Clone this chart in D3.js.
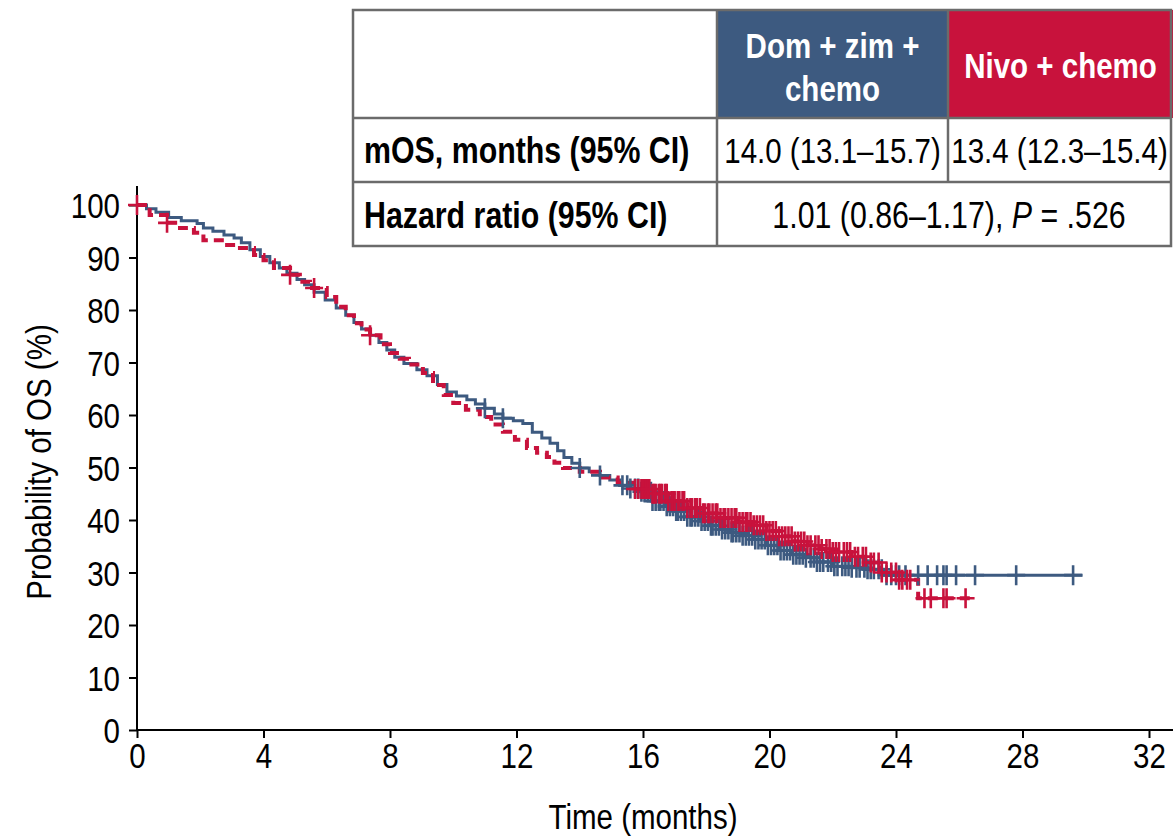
<!DOCTYPE html>
<html>
<head>
<meta charset="utf-8">
<script src="https://cdn.jsdelivr.net/npm/d3@7/dist/d3.min.js"></script>
<style>
    body { margin: 0; background: #fff; }
    svg { display: block; font-family: "Liberation Sans", Arial, sans-serif; }
</style>
</head>
<body>
<div id="chart"></div>
<script>
// Kaplan-Meier steps: [month, OS %]
const domZimSteps = [
    [0, 100], [0.3, 99.3], [0.6, 98.6], [1.0, 97.6], [1.4, 97.0], [1.9, 96.5], [2.1, 95.6], [2.4, 95.0],
    [2.75, 94.3], [3.07, 93.7], [3.3, 92.8], [3.57, 91.5], [3.9, 90.2], [4.2, 89.0], [4.5, 88.0], [4.74, 87.0],
    [5.06, 85.8], [5.3, 84.8], [5.6, 83.4], [5.95, 81.9], [6.3, 80.4], [6.6, 79.0], [6.86, 77.6], [7.1, 76.4],
    [7.37, 75.2], [7.65, 73.8], [7.9, 72.4], [8.15, 71.0], [8.44, 69.8], [8.85, 68.6], [9.17, 67.5], [9.5, 65.8],
    [9.8, 64.4], [10.1, 63.6], [10.43, 62.9], [10.7, 62.1], [11.0, 61.3], [11.3, 60.2], [11.57, 59.4], [11.9, 58.9],
    [12.2, 58.4], [12.5, 56.7], [12.8, 55.6], [13.06, 54.6], [13.3, 53.2], [13.5, 51.9], [13.75, 50.8], [14.0, 49.9],
    [14.3, 49.2], [14.64, 48.5], [14.95, 47.6], [15.27, 46.6], [15.6, 46.0], [15.9, 45.4], [16.3, 43.6], [16.7, 42.6],
    [17.0, 41.7], [17.4, 40.6], [17.8, 39.8], [18.1, 38.9], [18.43, 38.2], [18.8, 37.6], [19.1, 37.0], [19.5, 36.3],
    [19.9, 35.2], [20.3, 34.2], [20.7, 33.4], [21.06, 32.8], [21.5, 32.0], [22.0, 31.2], [22.6, 30.9], [23.1, 30.6],
    [23.6, 29.5], [29.9, 29.5]
];

const nivoSteps = [
    [0, 100], [0.4, 98.1], [0.95, 96.6], [1.36, 95.6], [1.8, 94.7], [2.1, 93.3], [2.75, 92.4], [3.16, 91.8],
    [3.7, 90.5], [4.0, 89.5], [4.33, 88.0], [4.84, 86.7], [5.15, 85.4], [5.47, 84.2], [6.0, 82.5], [6.3, 80.6],
    [6.6, 79.0], [6.86, 77.5], [7.1, 76.3], [7.37, 75.2], [7.7, 73.5], [8.0, 71.8], [8.31, 70.7], [8.6, 69.6],
    [9.04, 68.0], [9.36, 65.7], [9.7, 63.8], [10.0, 62.3], [10.4, 61.0], [10.84, 59.6], [11.2, 58.2], [11.57, 56.8],
    [11.95, 55.3], [12.33, 53.7], [12.65, 52.8], [12.96, 52.0], [13.2, 50.9], [13.47, 49.9], [14.0, 49.2], [14.64, 48.1],
    [15.2, 47.1], [15.7, 45.9], [16.3, 45.0], [16.8, 43.6], [17.4, 42.3], [17.9, 41.3], [18.43, 40.4], [19.0, 39.6],
    [19.5, 39.0], [19.9, 37.9], [20.3, 36.9], [20.8, 35.9], [21.2, 35.2], [21.6, 34.5], [22.0, 33.9], [22.6, 33.0],
    [23.1, 31.9], [23.5, 30.0], [24.1, 28.6], [24.7, 25.1], [26.4, 25.1]
];

// censoring times (months)
const domZimCensor = [
    11.0, 11.57, 14.0, 14.64, 15.35, 15.5, 15.6, 15.75, 15.85, 15.95, 16.05, 16.15, 16.25, 16.3, 16.4, 16.5,
    16.55, 16.65, 16.75, 16.85, 16.95, 17.05, 17.1, 17.2, 17.3, 17.4, 17.5, 17.55, 17.65, 17.75, 17.85, 17.95,
    18.05, 18.15, 18.2, 18.3, 18.4, 18.5, 18.6, 18.7, 18.8, 18.85, 18.95, 19.05, 19.15, 19.25, 19.35, 19.45,
    19.55, 19.65, 19.75, 19.85, 19.95, 20.05, 20.15, 20.25, 20.35, 20.45, 20.55, 20.65, 20.75, 20.85, 20.95,
    21.05, 21.15, 21.3, 21.4, 21.5, 21.6, 21.7, 21.85, 21.95, 22.05, 22.15, 22.3, 22.4, 22.5, 22.6, 22.75,
    22.85, 23.0, 23.1, 23.2, 23.3, 23.45, 23.55, 23.7, 23.85, 24.0, 24.1, 24.3, 24.7, 25.0, 25.3, 25.5, 25.6,
    25.9, 26.5, 27.8, 29.6
];

const nivoCensor = [
    0, 0.95, 4.84, 5.6, 7.37, 15.75, 15.85, 15.95, 16.0, 16.05, 16.1, 16.15, 16.2, 16.3, 16.35, 16.4, 16.5,
    16.55, 16.6, 16.7, 16.75, 16.8, 16.9, 16.95, 17.0, 17.1, 17.15, 17.25, 17.3, 17.4, 17.5, 17.55, 17.65,
    17.7, 17.8, 17.9, 17.95, 18.05, 18.1, 18.2, 18.3, 18.35, 18.45, 18.55, 18.6, 18.7, 18.8, 18.9, 18.95,
    19.05, 19.15, 19.25, 19.3, 19.4, 19.5, 19.6, 19.7, 19.8, 19.9, 20.0, 20.1, 20.2, 20.3, 20.4, 20.5, 20.6,
    20.7, 20.8, 20.9, 21.0, 21.1, 21.2, 21.3, 21.45, 21.55, 21.65, 21.8, 21.9, 22.0, 22.1, 22.2, 22.35, 22.45,
    22.55, 22.7, 22.8, 22.95, 23.05, 23.2, 23.3, 23.45, 23.55, 23.7, 23.85, 24.0, 24.1, 24.2, 24.35, 24.45,
    24.9, 25.1, 25.5, 25.6, 26.2
];

const xTicks = [0, 4, 8, 12, 16, 20, 24, 28, 32];
const yTicks = [0, 10, 20, 30, 40, 50, 60, 70, 80, 90, 100];

const headDomZim = ["Dom + zim +", "chemo"];
const headNivo = ["Nivo + chemo"];
const mosRow = ["mOS, months (95% CI)", "14.0 (13.1–15.7)", "13.4 (12.3–15.4)"];
const hrLabel = "Hazard ratio (95% CI)";
const hrValue = ["1.01 (0.86–1.17), ", "P", " = .526"];

const blue = "#3d5a80";
const red = "#c8123c";

const draw = (parent) => {
    var W = 1173, H = 837;
    var margin = { top: 205, left: 137 };
    var squeeze = 0.82; // the figure is set in a narrow face

    var svg = d3.select(parent).append("svg")
        .attr("width", W)
        .attr("height", H);

    // text placed at (px, py), squeezed horizontally around its anchor
    const narrowText = (sel, px, py, opts) => {
        return sel.append("g")
            .attr("transform", "translate(" + px + "," + py + ")" + (opts.rotate ? " rotate(" + opts.rotate + ")" : "") + " scale(" + squeeze + ",1)")
            .append("text")
            .attr("text-anchor", opts.anchor || "middle")
            .attr("dy", opts.dy !== undefined ? opts.dy : "0.36em")
            .attr("font-size", opts.size || 36)
            .attr("font-weight", opts.bold ? "bold" : "normal")
            .attr("fill", opts.fill || "#000");
    };

    const x = d3.scaleLinear().domain([0, 32]).range([margin.left, 1149]);
    const y = d3.scaleLinear().domain([0, 100]).range([730, margin.top]);

    // axes
    const xAxis = svg.append("g")
        .attr("transform", "translate(0," + y(0) + ")")
        .call(d3.axisBottom(x).tickValues(xTicks).tickSize(8).tickSizeOuter(0).tickPadding(4));
    xAxis.select(".domain").attr("d", "M" + x(0) + ",0H" + W);

    const yAxis = svg.append("g")
        .attr("transform", "translate(" + x(0) + ",0)")
        .call(d3.axisLeft(y).tickValues(yTicks).tickSize(8).tickSizeOuter(0).tickPadding(9));
    yAxis.select(".domain").attr("d", "M0," + y(0) + "V" + y(103.6));

    svg.selectAll(".domain, .tick line").attr("stroke", "#000").attr("stroke-width", 2);
    svg.selectAll(".tick text").attr("font-size", 36).attr("fill", "#000")
        .attr("font-family", "inherit")
        .attr("transform", "scale(" + squeeze + ",1)");
    yAxis.selectAll(".tick text").attr("dy", "0.36em").attr("x", -17 / squeeze);

    narrowText(svg, (x(0) + x(32)) / 2, 829, { dy: 0 }).text("Time (months)");
    narrowText(svg, 51, 462, { dy: 0, rotate: -90 }).text("Probability of OS (%)");

    // survival curves
    const line = d3.line()
        .x(d => x(d[0]))
        .y(d => y(d[1]))
        .curve(d3.curveStepAfter);

    svg.append("path")
        .attr("d", line(domZimSteps))
        .attr("fill", "none")
        .attr("stroke", blue)
        .attr("stroke-width", 3);

    svg.append("path")
        .attr("d", line(nivoSteps))
        .attr("fill", "none")
        .attr("stroke", red)
        .attr("stroke-width", 4)
        .attr("stroke-dasharray", "10,6");

    // survival value at a given time (step function)
    const survAt = (steps, t) => {
        let i = d3.bisector(d => d[0]).right(steps, t) - 1;
        return steps[Math.max(0, i)][1];
    };

    const drawCensor = (times, steps, color) => {
        const g = svg.append("g")
            .attr("stroke", color)
            .attr("stroke-width", 2.6);
        g.selectAll("path")
            .data(times)
            .enter().append("path")
            .attr("d", t => {
                let cx = x(t), cy = y(survAt(steps, t));
                return "M" + (cx - 9) + "," + cy + "H" + (cx + 9) + "M" + cx + "," + (cy - 10) + "V" + (cy + 10);
            });
    };

    drawCensor(domZimCensor, domZimSteps, blue);
    drawCensor(nivoCensor, nivoSteps, red);

    // results table
    const colX = [353, 717, 948, 1171];
    const rowY = [10, 118, 182, 246];
    const tbl = svg.append("g");

    tbl.append("rect").attr("x", colX[1]).attr("y", rowY[0])
        .attr("width", colX[2] - colX[1]).attr("height", rowY[1] - rowY[0]).attr("fill", blue);
    tbl.append("rect").attr("x", colX[2]).attr("y", rowY[0])
        .attr("width", W - colX[2]).attr("height", rowY[1] - rowY[0]).attr("fill", red);

    const border = "#6b6b6b";
    tbl.append("rect").attr("x", colX[0]).attr("y", rowY[0])
        .attr("width", colX[3] - colX[0]).attr("height", rowY[3] - rowY[0])
        .attr("fill", "none").attr("stroke", border).attr("stroke-width", 2.5);
    [rowY[1], rowY[2]].forEach(yy => {
        tbl.append("line").attr("x1", colX[0]).attr("x2", colX[3]).attr("y1", yy).attr("y2", yy)
            .attr("stroke", border).attr("stroke-width", 2.5);
    });
    tbl.append("line").attr("x1", colX[1]).attr("x2", colX[1]).attr("y1", rowY[0]).attr("y2", rowY[3])
        .attr("stroke", border).attr("stroke-width", 2.5);
    tbl.append("line").attr("x1", colX[2]).attr("x2", colX[2]).attr("y1", rowY[0]).attr("y2", rowY[2])
        .attr("stroke", border).attr("stroke-width", 2.5);

    const c2 = (colX[1] + colX[2]) / 2, c3 = (colX[2] + colX[3]) / 2;
    narrowText(tbl, c2, 45, { bold: true, fill: "#fff" }).text(headDomZim[0]);
    narrowText(tbl, c2, 88, { bold: true, fill: "#fff" }).text(headDomZim[1]);
    narrowText(tbl, c3 + 1, 65, { bold: true, fill: "#fff" }).text(headNivo[0]);
    narrowText(tbl, 364, 150, { bold: true, anchor: "start", size: 37 }).text(mosRow[0]);
    narrowText(tbl, c2, 150, {}).text(mosRow[1]);
    narrowText(tbl, c3, 150, {}).text(mosRow[2]);
    narrowText(tbl, 364, 215, { bold: true, anchor: "start", size: 37 }).text(hrLabel);

    const hr = narrowText(tbl, (colX[1] + colX[3]) / 2 + 5, 215, { size: 37 });
    hr.append("tspan").text(hrValue[0]);
    hr.append("tspan").attr("font-style", "italic").text(hrValue[1]);
    hr.append("tspan").text(hrValue[2]);
};

draw("#chart");
</script>
</body>
</html>
